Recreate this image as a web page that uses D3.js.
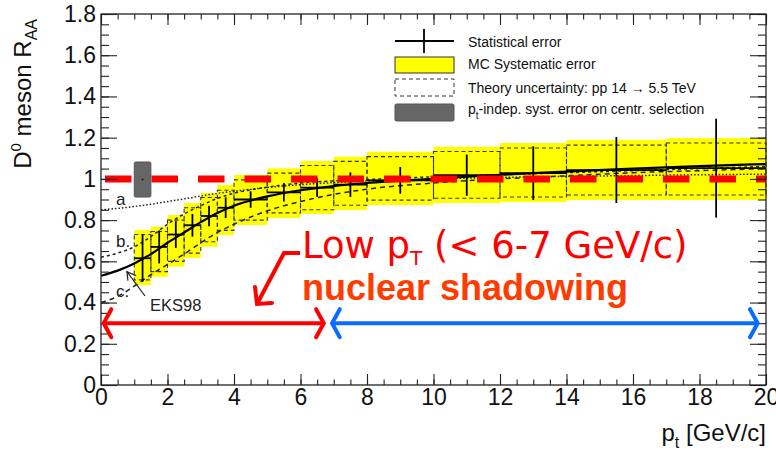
<!DOCTYPE html>
<html>
<head>
<meta charset="utf-8">
<script src="https://cdn.jsdelivr.net/npm/d3@7"></script>
<style>
  body { margin: 0; background: #fff; }
  svg { display: block; font-family: "Liberation Sans", Arial, sans-serif; }
  .tick text { font-size: 23px; fill: #111; }
</style>
</head>
<body>
<svg id="chart" width="776" height="450"></svg>
<script>

/*** DATA ***/

// pt bins of the D0 measurement
let binLo = [1, 1.5, 2, 2.5, 3, 3.5, 4, 5, 6, 7, 8, 10, 12, 14, 17];
let binHi = [1.5, 2, 2.5, 3, 3.5, 4, 5, 6, 7, 8, 10, 12, 14, 17, 20];

// R_AA points and statistical errors
let raa  = [0.615, 0.67, 0.73, 0.775, 0.82, 0.86, 0.9, 0.935, 0.958, 0.972, 0.993, 1.018, 1.028, 1.043, 1.052];
let stat = [0.115, 0.08, 0.065, 0.055, 0.05, 0.05, 0.04, 0.045, 0.045, 0.06, 0.065, 0.1, 0.13, 0.16, 0.24];

// MC systematic error (yellow boxes)
let sysLo = [0.485, 0.525, 0.574, 0.616, 0.671, 0.728, 0.776, 0.81, 0.83, 0.849, 0.873, 0.883, 0.888, 0.898, 0.898];
let sysHi = [0.752, 0.768, 0.825, 0.883, 0.932, 0.97, 1.019, 1.051, 1.087, 1.108, 1.132, 1.156, 1.174, 1.189, 1.198];

// theory uncertainty pp 14 -> 5.5 TeV (dashed boxes)
let thLo = [0.51, 0.55, 0.6, 0.64, 0.695, 0.75, 0.8, 0.835, 0.85, 0.872, 0.897, 0.906, 0.912, 0.922, 0.922];
let thHi = [0.73, 0.745, 0.8, 0.86, 0.91, 0.945, 0.995, 1.028, 1.065, 1.085, 1.108, 1.133, 1.15, 1.164, 1.174];

// shadowing curves (EKS98 central, a, b, c)
let curvePt = [0, 0.5, 1, 1.5, 2, 2.5, 3, 3.5, 4, 5, 6, 7, 8, 10, 12, 14, 16, 18, 20];
let eks98   = [0.53, 0.555, 0.59, 0.635, 0.69, 0.74, 0.79, 0.835, 0.87, 0.915, 0.945, 0.965, 0.98, 1.0, 1.02, 1.035, 1.05, 1.062, 1.072];
let curveA  = [0.85, 0.857, 0.866, 0.877, 0.89, 0.903, 0.917, 0.93, 0.94, 0.958, 0.972, 0.982, 0.99, 1.0, 1.007, 1.012, 1.016, 1.02, 1.023];
let curveB  = [0.62, 0.64, 0.67, 0.72, 0.78, 0.83, 0.87, 0.905, 0.93, 0.96, 0.98, 0.99, 0.997, 1.01, 1.02, 1.03, 1.04, 1.05, 1.06];
let curveC  = [0.4, 0.43, 0.48, 0.535, 0.585, 0.635, 0.69, 0.74, 0.78, 0.845, 0.89, 0.925, 0.95, 0.98, 1.0, 1.015, 1.03, 1.04, 1.05];

// curve label names and the R_AA level where they sit
let curveNames = ["a", "b.", "c."];
let curveLabelY = [0.875, 0.67, 0.425];

// pt-independent syst. error on centrality selection
let centrPt = [1, 1.5], centrVal = [0.912, 1.082];

let xTicks = [0, 2, 4, 6, 8, 10, 12, 14, 16, 18, 20];
let yTicks = [0, 0.2, 0.4, 0.6, 0.8, 1, 1.2, 1.4, 1.6, 1.8];

/*** SETUP ***/

let svg = d3.select('#chart');
let margin = {top: 14, right: 10, bottom: 65, left: 101},
    width  = 776 - margin.left - margin.right,
    height = 450 - margin.top - margin.bottom;

let x = d3.scaleLinear().domain([0, 20]).range([margin.left, margin.left + width]),
    y = d3.scaleLinear().domain([0, 1.8]).range([margin.top + height, margin.top]);

let bins = binLo.map((d, i) => ({lo: d, hi: binHi[i], v: raa[i], s: stat[i],
    sl: sysLo[i], sh: sysHi[i], tl: thLo[i], th: thHi[i]}));

/*** BOXES ***/

svg.selectAll("rect.sys").data(bins).enter()
    .append("rect").classed("sys", true)
    .attr("x", (d) => x(d.lo)).attr("width", (d) => x(d.hi) - x(d.lo))
    .attr("y", (d) => y(d.sh)).attr("height", (d) => y(d.sl) - y(d.sh))
    .attr("fill", "#ffff00");

svg.selectAll("rect.theory").data(bins).enter()
    .append("rect").classed("theory", true)
    .attr("x", (d) => x(d.lo)).attr("width", (d) => x(d.hi) - x(d.lo))
    .attr("y", (d) => y(d.th)).attr("height", (d) => y(d.tl) - y(d.th))
    .attr("fill", "none").attr("stroke", "#333").attr("stroke-width", 1.1)
    .attr("stroke-dasharray", "4,3");

/*** CURVES ***/

let line = (vals) => d3.line().curve(d3.curveMonotoneX)
    .x((d, i) => x(curvePt[i])).y((d) => y(d))(vals);

svg.append("path").attr("d", line(curveA)).attr("fill", "none")
    .attr("stroke", "#222").attr("stroke-width", 1.5).attr("stroke-dasharray", "1.5,2");
svg.append("path").attr("d", line(curveB)).attr("fill", "none")
    .attr("stroke", "#222").attr("stroke-width", 1.5).attr("stroke-dasharray", "3,3");
svg.append("path").attr("d", line(curveC)).attr("fill", "none")
    .attr("stroke", "#222").attr("stroke-width", 1.5).attr("stroke-dasharray", "5,4");
svg.append("path").attr("d", line(eks98)).attr("fill", "none")
    .attr("stroke", "#000").attr("stroke-width", 2.2);

/*** STAT ERRORS ***/

svg.selectAll("line.herr").data(bins).enter()
    .append("line").classed("herr", true)
    .attr("x1", (d) => x(d.lo)).attr("x2", (d) => x(d.hi))
    .attr("y1", (d) => y(d.v)).attr("y2", (d) => y(d.v))
    .attr("stroke", "#000").attr("stroke-width", 1.8);

svg.selectAll("line.verr").data(bins).enter()
    .append("line").classed("verr", true)
    .attr("x1", (d) => x((d.lo + d.hi) / 2)).attr("x2", (d) => x((d.lo + d.hi) / 2))
    .attr("y1", (d) => y(d.v - d.s)).attr("y2", (d) => y(d.v + d.s))
    .attr("stroke", "#000").attr("stroke-width", 1.8);

/*** RED REFERENCE LINE AT 1 ***/

svg.append("line")
    .attr("x1", x(0)).attr("x2", x(20)).attr("y1", y(1)).attr("y2", y(1))
    .attr("stroke", "#ff0000").attr("stroke-width", 7)
    .attr("stroke-dasharray", "26.5,20").attr("stroke-dashoffset", -4);

// centrality box
svg.append("rect")
    .attr("x", x(centrPt[0])).attr("width", x(centrPt[1]) - x(centrPt[0]))
    .attr("y", y(centrVal[1])).attr("height", y(centrVal[0]) - y(centrVal[1]))
    .attr("rx", 1.5).attr("fill", "#666").attr("stroke", "#555");
svg.append("circle")
    .attr("cx", x((centrPt[0] + centrPt[1]) / 2)).attr("cy", y((centrVal[0] + centrVal[1]) / 2))
    .attr("r", 1).attr("fill", "#222");

/*** AXES ***/

let fmt = d3.format("~g");
let minorX = d3.range(0, 20.01, 0.5), minorY = d3.range(0, 1.801, 0.05);

svg.append("g").attr("transform", `translate(0,${y(0)})`)
    .call(d3.axisBottom(x).tickValues(xTicks).tickSize(-11).tickPadding(4).tickFormat(fmt));
svg.append("g").attr("transform", `translate(0,${y(0)})`)
    .call(d3.axisBottom(x).tickValues(minorX).tickSize(-5.5).tickFormat(""));
svg.append("g").attr("transform", `translate(0,${y(1.8)})`)
    .call(d3.axisTop(x).tickValues(xTicks).tickSize(-11).tickFormat(""));
svg.append("g").attr("transform", `translate(0,${y(1.8)})`)
    .call(d3.axisTop(x).tickValues(minorX).tickSize(-5.5).tickFormat(""));

svg.append("g").attr("transform", `translate(${x(0)},0)`)
    .call(d3.axisLeft(y).tickValues(yTicks).tickSize(-16).tickPadding(5).tickFormat(fmt));
svg.append("g").attr("transform", `translate(${x(0)},0)`)
    .call(d3.axisLeft(y).tickValues(minorY).tickSize(-8).tickFormat(""));
svg.append("g").attr("transform", `translate(${x(20)},0)`)
    .call(d3.axisRight(y).tickValues(yTicks).tickSize(-16).tickFormat(""));
svg.append("g").attr("transform", `translate(${x(20)},0)`)
    .call(d3.axisRight(y).tickValues(minorY).tickSize(-8).tickFormat(""));

svg.selectAll(".domain").remove();
svg.selectAll(".tick line").attr("stroke", "#222").attr("stroke-width", 1.1);
svg.selectAll(".tick text").attr("font-family", "Liberation Sans, Arial, sans-serif");

svg.append("rect")
    .attr("x", x(0)).attr("y", y(1.8)).attr("width", x(20) - x(0)).attr("height", y(0) - y(1.8))
    .attr("fill", "none").attr("stroke", "#222").attr("stroke-width", 1.3);

// axis titles
let xt = svg.append("text").attr("x", x(20)).attr("y", 441)
    .attr("text-anchor", "end").attr("font-size", 24).attr("fill", "#111");
xt.append("tspan").text("p");
xt.append("tspan").attr("font-size", 16).attr("dy", 7).text("t");
xt.append("tspan").attr("dy", -7).text(" [GeV/c]");

let yt = svg.append("text").attr("transform", "translate(31,19) rotate(-90)")
    .attr("text-anchor", "end").attr("font-size", 24).attr("fill", "#111");
yt.append("tspan").text("D");
yt.append("tspan").attr("font-size", 15).attr("dy", -10).text("0");
yt.append("tspan").attr("dy", 10).text(" meson R");
yt.append("tspan").attr("font-size", 16).attr("dy", 6).text("AA");

/*** CURVE LABELS ***/

svg.selectAll("text.clab").data(curveNames).enter()
    .append("text").classed("clab", true)
    .attr("x", x(0.45)).attr("y", (d, i) => y(curveLabelY[i]))
    .attr("font-size", 17).attr("fill", "#222").text((d) => d);

svg.append("text").attr("x", 150).attr("y", 311).attr("font-size", 16.5).attr("fill", "#222").text("EKS98");
svg.append("path").attr("d", `M145,296 L${x(0.78)},${y(0.55)}`)
    .attr("stroke", "#222").attr("stroke-width", 1.2).attr("fill", "none");
svg.append("path")
    .attr("d", `M${x(0.78) + 1},${y(0.55) + 9} L${x(0.78)},${y(0.55)} L${x(0.78) + 9},${y(0.55) + 4}`)
    .attr("stroke", "#222").attr("stroke-width", 1.2).attr("fill", "none");

/*** LEGEND ***/

let lg = svg.append("g").attr("font-size", 14).attr("fill", "#111");
lg.append("line").attr("x1", 395).attr("x2", 454).attr("y1", 41).attr("y2", 41).attr("stroke", "#000").attr("stroke-width", 1.8);
lg.append("line").attr("x1", 424).attr("x2", 424).attr("y1", 29).attr("y2", 53).attr("stroke", "#000").attr("stroke-width", 1.8);
lg.append("text").attr("x", 468).attr("y", 46.5).text("Statistical error");

lg.append("rect").attr("x", 395).attr("y", 57).attr("width", 59).attr("height", 16)
    .attr("fill", "#ffff00").attr("stroke", "#333").attr("stroke-width", 1);
lg.append("text").attr("x", 468).attr("y", 69).text("MC Systematic error");

lg.append("rect").attr("x", 395).attr("y", 79).attr("width", 59).attr("height", 17)
    .attr("fill", "none").attr("stroke", "#333").attr("stroke-width", 1).attr("stroke-dasharray", "4,3");
lg.append("text").attr("x", 468).attr("y", 92.5).text("Theory uncertainty: pp 14 \u2192 5.5 TeV");

lg.append("rect").attr("x", 395).attr("y", 104).attr("width", 59).attr("height", 17).attr("rx", 1.5)
    .attr("fill", "#666").attr("stroke", "#555");
let l4 = lg.append("text").attr("x", 468).attr("y", 113.5);
l4.append("tspan").text("p");
l4.append("tspan").attr("font-size", 10).attr("dy", 5).text("t");
l4.append("tspan").attr("dy", -5).text("-indep. syst. error on centr. selection");

/*** ANNOTATIONS ***/

let low = svg.append("text").attr("x", 302).attr("y", 258)
    .attr("font-family", "DejaVu Sans, sans-serif").attr("font-size", 37).attr("fill", "#ff0000");
low.append("tspan").text("Low p");
low.append("tspan").attr("font-size", 20).attr("dy", 7).text("T");
low.append("tspan").attr("dy", -7).text(" (< 6-7 GeV/c)");

svg.append("text").attr("x", 302).attr("y", 300)
    .attr("font-size", 36).attr("font-weight", "bold").attr("fill", "#ff3c00")
    .text("nuclear shadowing");

// bent arrow from the text
svg.append("path").attr("d", "M300,253 L284,253 L257,304")
    .attr("stroke", "#ff0000").attr("stroke-width", 4).attr("fill", "none");
svg.append("path").attr("d", "M255,287 L257,304 L272,303")
    .attr("stroke", "#ff0000").attr("stroke-width", 4).attr("fill", "none")
    .attr("stroke-linejoin", "miter").attr("stroke-linecap", "round");

// double arrows for the pt ranges
function dbl_arrow(x1, x2, yv, col) {
    let py = y(yv), a = 14;
    svg.append("line").attr("x1", x1).attr("x2", x2).attr("y1", py).attr("y2", py)
        .attr("stroke", col).attr("stroke-width", 4);
    svg.append("path").attr("d", `M${x1 + a * 0.55},${py - a} L${x1},${py} L${x1 + a * 0.55},${py + a}`)
        .attr("stroke", col).attr("stroke-width", 4).attr("fill", "none").attr("stroke-linecap", "round");
    svg.append("path").attr("d", `M${x2 - a * 0.55},${py - a} L${x2},${py} L${x2 - a * 0.55},${py + a}`)
        .attr("stroke", col).attr("stroke-width", 4).attr("fill", "none").attr("stroke-linecap", "round");
}
dbl_arrow(x(0.08), x(6.7), 0.3, "#ff0000");
dbl_arrow(x(6.95), x(19.75), 0.3, "#0a6cff");

</script>
</body>
</html>
